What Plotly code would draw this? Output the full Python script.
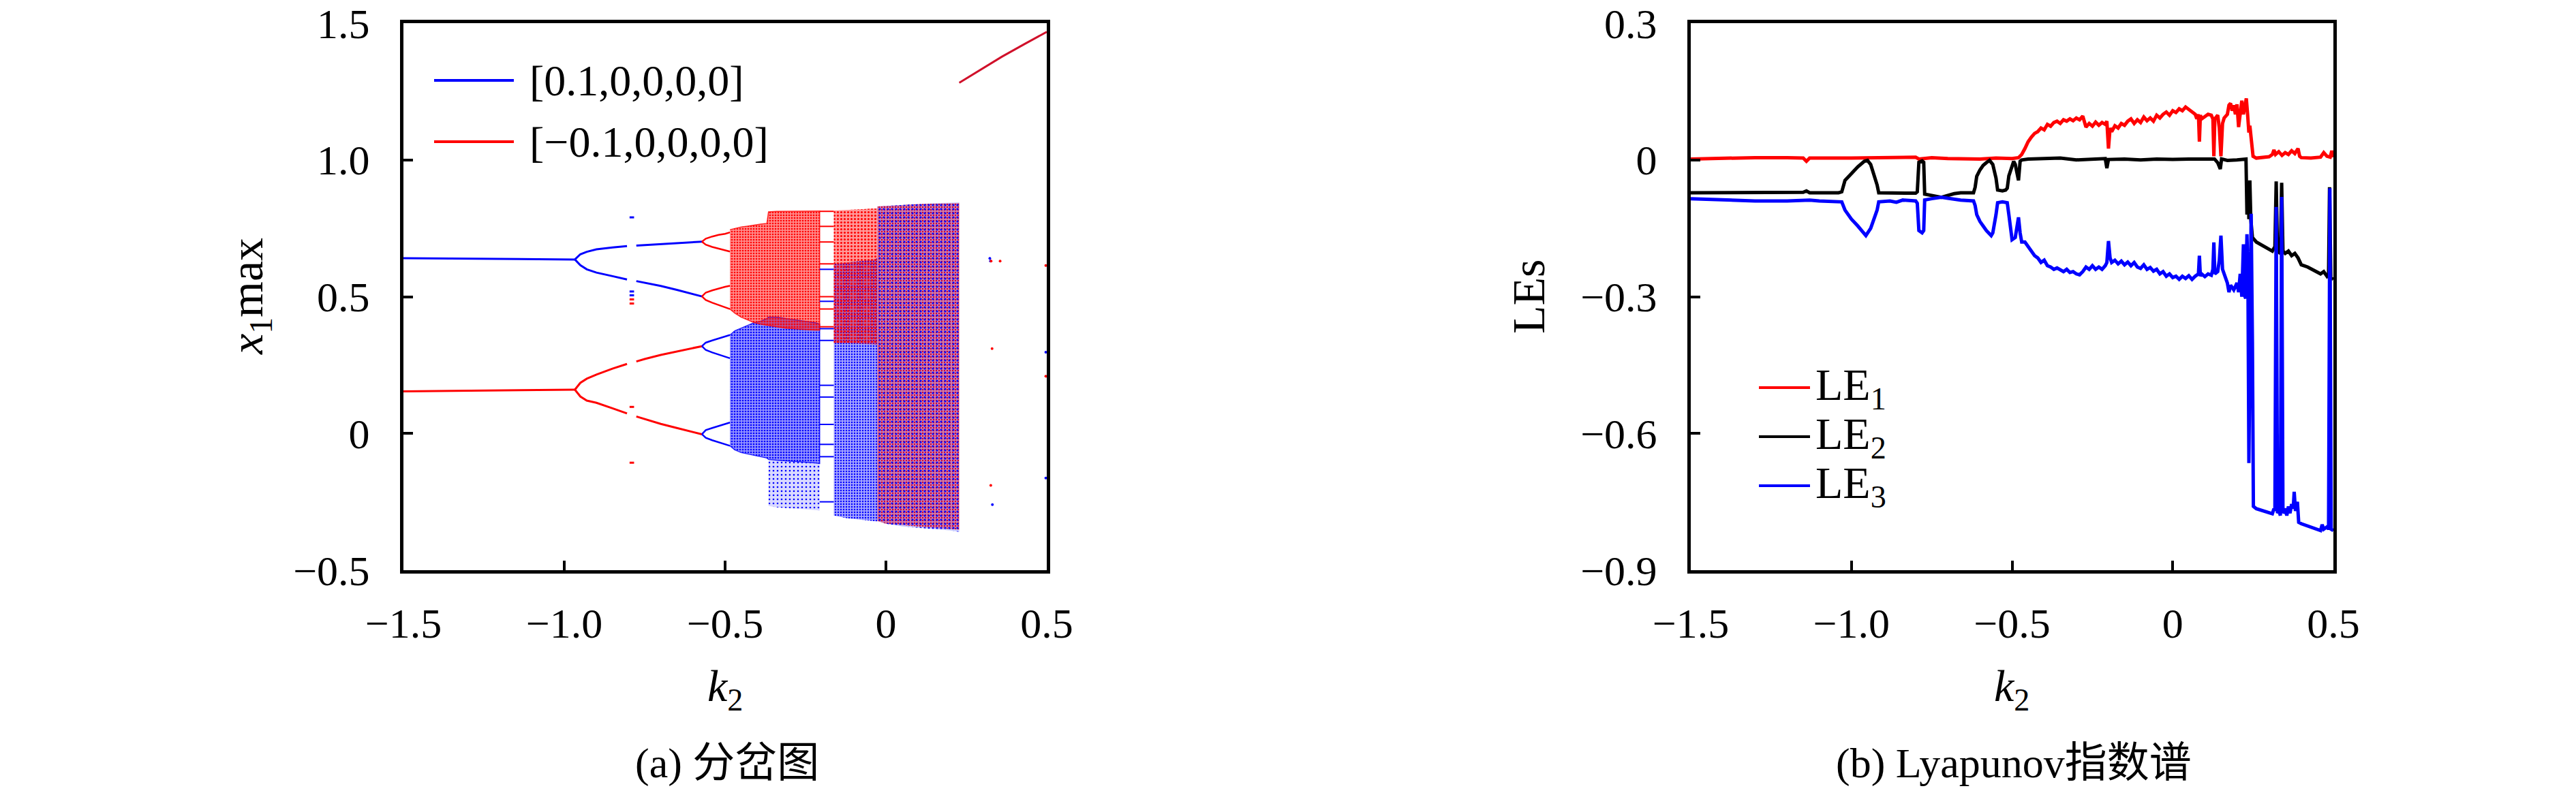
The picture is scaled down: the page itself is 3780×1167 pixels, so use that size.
import plotly.graph_objects as go

# ---------------- (a) bifurcation diagram data ----------------
p1_k2 = [-1.5, -1.25, -0.967]
p1_blue = [0.641, 0.639, 0.636]
p1_red = [0.154, 0.157, 0.160]

p2_k2 = [-0.967, -0.95, -0.93, -0.90, -0.85, -0.805, None, -0.776, -0.75, -0.70, -0.65, -0.60, -0.572]
p2_blue_up = [0.636, 0.655, 0.664, 0.673, 0.680, 0.685, None, 0.687, 0.689, 0.692, 0.696, 0.699, 0.701]
p2_blue_lo = [0.636, 0.615, 0.600, 0.588, 0.575, 0.563, None, 0.557, 0.551, 0.539, 0.525, 0.510, 0.501]
p2_red_up = [0.160, 0.185, 0.200, 0.215, 0.237, 0.254, None, 0.263, 0.272, 0.287, 0.300, 0.312, 0.319]
p2_red_lo = [0.160, 0.135, 0.120, 0.112, 0.092, 0.073, None, 0.062, 0.053, 0.035, 0.020, 0.006, -0.003]

p4_k2 = [-0.572, -0.56, -0.54, -0.52, -0.50, -0.485]
p4_red_a_up = [0.701, 0.712, 0.720, 0.726, 0.730, 0.735]
p4_red_a_lo = [0.701, 0.690, 0.682, 0.676, 0.670, 0.665]
p4_red_b_up = [0.501, 0.515, 0.523, 0.530, 0.536, 0.540]
p4_red_b_lo = [0.501, 0.488, 0.478, 0.470, 0.462, 0.455]
p4_blue_a_up = [0.319, 0.332, 0.340, 0.347, 0.353, 0.360]
p4_blue_a_lo = [0.319, 0.305, 0.296, 0.289, 0.282, 0.275]
p4_blue_b_up = [-0.003, 0.012, 0.020, 0.027, 0.033, 0.040]
p4_blue_b_lo = [-0.003, -0.016, -0.025, -0.032, -0.040, -0.045]

# chaotic bands (envelopes)
ca_k2 = [-0.485, -0.47, -0.45, -0.43, -0.41, -0.39, -0.37, -0.365, -0.34, -0.31, -0.28, -0.25, -0.22, -0.206]
ca_red_hi = [0.745, 0.750, 0.755, 0.758, 0.762, 0.765, 0.768, 0.810, 0.812, 0.812, 0.812, 0.813, 0.813, 0.813]
ca_red_lo = [0.455, 0.440, 0.425, 0.415, 0.405, 0.400, 0.395, 0.395, 0.390, 0.385, 0.383, 0.380, 0.378, 0.378]
ca_blue_hi = [0.360, 0.375, 0.385, 0.395, 0.405, 0.410, 0.420, 0.425, 0.425, 0.420, 0.415, 0.410, 0.405, 0.400]
ca_blue_lo = [-0.045, -0.060, -0.070, -0.075, -0.080, -0.085, -0.090, -0.095, -0.098, -0.100, -0.102, -0.105, -0.108, -0.110]

cs_k2 = [-0.365, -0.34, -0.31, -0.28, -0.25, -0.22, -0.206]
cs_blue_hi = [-0.095, -0.098, -0.100, -0.102, -0.105, -0.108, -0.110]
cs_blue_lo = [-0.265, -0.270, -0.272, -0.275, -0.278, -0.280, -0.282]

cb_k2 = [-0.162, -0.12, -0.08, -0.04, -0.027]
cb_red_hi = [0.815, 0.818, 0.820, 0.822, 0.822]
cb_red_lo = [0.330, 0.330, 0.328, 0.326, 0.325]
cb_blue_hi = [0.620, 0.625, 0.630, 0.635, 0.640]
cb_blue_lo = [-0.300, -0.310, -0.315, -0.320, -0.322]

cc_k2 = [-0.027, 0.0, 0.05, 0.10, 0.15, 0.20, 0.228]
cc_red_hi = [0.830, 0.832, 0.835, 0.838, 0.840, 0.842, 0.842]
cc_red_lo = [-0.320, -0.330, -0.335, -0.340, -0.345, -0.350, -0.352]
cc_blue_hi = [0.830, 0.832, 0.836, 0.840, 0.842, 0.844, 0.845]
cc_blue_lo = [-0.320, -0.330, -0.340, -0.345, -0.350, -0.355, -0.360]

# periodic window lines
win_k2 = [-0.206, -0.162]
win_red_y = [0.812, 0.757, 0.700, 0.620, 0.500, 0.455, 0.390]
win_blue_y = [0.600, 0.483, 0.383, 0.340, 0.176, 0.133, 0.033, -0.040, -0.085, -0.250]

# short coexisting-orbit marks near k2 = -0.79
mark_k2 = [-0.797, -0.783]
mark_blue_y = [0.790, 0.519, 0.505]
mark_red_y = [0.490, 0.475, 0.097, -0.107]

# isolated points for k2 > 0.23
dots_blue_k2 = [0.323, 0.325, 0.331, 0.497, 0.497]
dots_blue_y = [0.640, 0.630, -0.260, 0.297, -0.163]
dots_red_k2 = [0.327, 0.330, 0.326, 0.355, 0.497, 0.497]
dots_red_y = [0.630, 0.310, -0.190, 0.630, 0.614, 0.209]

# upper red branch
hi_k2 = [0.228, 0.30, 0.36, 0.43, 0.50]
hi_red = [1.282, 1.333, 1.377, 1.423, 1.468]

# ---------------- (b) Lyapunov exponents data ----------------
le1_k2 = [-1.50, -1.40, -1.30, -1.20, -1.15, -1.14, -1.13, -1.00, -0.90, -0.80, -0.79, -0.75, -0.70, -0.60, -0.55,
          -0.50, -0.48, -0.47, -0.46, -0.45, -0.44, -0.43, -0.42, -0.41, -0.40, -0.39, -0.38, -0.37, -0.36, -0.35,
          -0.34, -0.33, -0.32, -0.31, -0.30, -0.29, -0.28, -0.275, -0.27, -0.26, -0.25, -0.24, -0.23, -0.22, -0.21,
          -0.205, -0.20, -0.195, -0.19, -0.18, -0.17, -0.16, -0.15, -0.14, -0.13, -0.12, -0.11, -0.10, -0.09, -0.08,
          -0.07, -0.06, -0.05, -0.04, -0.03, -0.02, -0.01, 0.00, 0.01, 0.02, 0.03, 0.04, 0.05, 0.06, 0.07, 0.075,
          0.08, 0.083, 0.086, 0.09, 0.10, 0.11, 0.12, 0.125, 0.128, 0.131, 0.14, 0.145, 0.15, 0.155, 0.16, 0.17,
          0.175, 0.18, 0.185, 0.19, 0.195, 0.20, 0.205, 0.21, 0.215, 0.22, 0.225, 0.229, 0.233, 0.237, 0.24, 0.245,
          0.25, 0.26, 0.28, 0.30, 0.31, 0.315, 0.32, 0.33, 0.34, 0.35, 0.36, 0.37, 0.38, 0.39, 0.395, 0.40, 0.43,
          0.46, 0.47, 0.48, 0.49, 0.495, 0.50]
le1 = [0.002, 0.004, 0.005, 0.005, 0.004, -0.003, 0.004, 0.004, 0.005, 0.006, 0.002, 0.005, 0.003, 0.002, 0.004,
       0.003, 0.005, 0.012, 0.025, 0.040, 0.050, 0.058, 0.062, 0.070, 0.066, 0.078, 0.074, 0.082, 0.085, 0.080,
       0.088, 0.085, 0.090, 0.086, 0.092, 0.088, 0.096, 0.085, 0.072, 0.080, 0.074, 0.083, 0.076, 0.082, 0.078,
       0.085, 0.025, 0.070, 0.062, 0.075, 0.070, 0.080, 0.076, 0.085, 0.090, 0.080, 0.088, 0.082, 0.094, 0.086,
       0.092, 0.085, 0.098, 0.092, 0.100, 0.105, 0.098, 0.108, 0.104, 0.112, 0.108, 0.116, 0.110, 0.106, 0.100, 0.090,
       0.100, 0.040, 0.098, 0.090, 0.096, 0.100, 0.098, 0.090, 0.008, 0.090, 0.098, 0.070, 0.008, 0.080, 0.092, 0.100,
       0.120, 0.124, 0.108, 0.120, 0.100, 0.122, 0.072, 0.110, 0.130, 0.100, 0.118, 0.135, 0.100, 0.060, 0.075, 0.030,
       0.008, 0.004, 0.005, 0.007, 0.012, 0.022, 0.012, 0.018, 0.010, 0.016, 0.012, 0.020, 0.014, 0.025, 0.008, 0.005, 0.004,
       0.006, 0.016, 0.008, 0.006, 0.020, 0.006]

le2_k2 = [-1.50, -1.40, -1.30, -1.15, -1.14, -1.13, -1.04, -1.03, -1.02, -1.00, -0.98, -0.96, -0.95, -0.94, -0.93,
          -0.92, -0.915, -0.80, -0.795, -0.79, -0.78, -0.775, -0.772, -0.75, -0.72, -0.70, -0.68, -0.66, -0.62, -0.615,
          -0.61, -0.60, -0.59, -0.58, -0.57, -0.56, -0.55, -0.545, -0.53, -0.52, -0.515, -0.51, -0.50, -0.495, -0.49,
          -0.485, -0.48, -0.475, -0.47, -0.45, -0.40, -0.35, -0.30, -0.25, -0.21, -0.205, -0.20, -0.15, -0.10, -0.05,
          0.00, 0.05, 0.10, 0.13, 0.14, 0.148, 0.152, 0.17, 0.20, 0.228, 0.231, 0.234, 0.237, 0.24, 0.243, 0.248,
          0.26, 0.28, 0.30, 0.31, 0.318, 0.322, 0.326, 0.335, 0.339, 0.343, 0.35, 0.36, 0.37, 0.38, 0.39, 0.40,
          0.42, 0.44, 0.46, 0.47, 0.48, 0.485, 0.488, 0.492, 0.50]
le2 = [-0.072, -0.072, -0.072, -0.071, -0.068, -0.072, -0.072, -0.070, -0.045, -0.030, -0.015, -0.003, -0.001, -0.010, -0.030,
       -0.055, -0.072, -0.073, -0.070, -0.005, -0.002, -0.005, -0.075, -0.078, -0.082, -0.078, -0.074, -0.072, -0.072, -0.060,
       -0.036, -0.022, -0.012, -0.006, -0.001, -0.010, -0.040, -0.066, -0.068, -0.066, -0.062, -0.035, -0.012, -0.003, -0.010,
       -0.025, -0.045, -0.003, 0.000, 0.002, 0.003, 0.004, 0.000, 0.002, 0.003, -0.018, 0.001, 0.002, 0.000, 0.002,
       0.001, 0.002, 0.001, 0.002, -0.006, -0.020, 0.002, -0.001, 0.000, 0.002, -0.120, -0.050, -0.130, -0.045, -0.130, -0.170,
       -0.180, -0.188, -0.195, -0.200, -0.190, -0.047, -0.200, -0.205, -0.050, -0.200, -0.205, -0.200, -0.210, -0.205, -0.215, -0.230,
       -0.235, -0.242, -0.250, -0.245, -0.255, -0.250, -0.060, -0.258, -0.262]

le3_k2 = [-1.50, -1.45, -1.40, -1.30, -1.20, -1.13, -1.10, -1.03, -1.02, -1.00, -0.98, -0.96, -0.955, -0.94, -0.93,
          -0.92, -0.915, -0.88, -0.86, -0.84, -0.80, -0.795, -0.79, -0.78, -0.775, -0.772, -0.75, -0.72, -0.70, -0.66,
          -0.62, -0.615, -0.61, -0.60, -0.59, -0.58, -0.565, -0.56, -0.55, -0.545, -0.53, -0.515, -0.51, -0.505, -0.50,
          -0.49, -0.48, -0.475, -0.47, -0.46, -0.45, -0.44, -0.43, -0.42, -0.41, -0.40, -0.39, -0.38, -0.37, -0.36,
          -0.35, -0.34, -0.33, -0.32, -0.31, -0.30, -0.29, -0.28, -0.27, -0.26, -0.25, -0.24, -0.23, -0.22, -0.21,
          -0.205, -0.20, -0.195, -0.19, -0.18, -0.17, -0.16, -0.15, -0.14, -0.13, -0.12, -0.11, -0.10, -0.09, -0.08,
          -0.07, -0.06, -0.05, -0.04, -0.03, -0.02, -0.01, 0.00, 0.01, 0.02, 0.03, 0.04, 0.05, 0.06, 0.07,
          0.08, 0.083, 0.086, 0.09, 0.10, 0.11, 0.12, 0.125, 0.128, 0.131, 0.14, 0.145, 0.15, 0.155, 0.16,
          0.17, 0.175, 0.18, 0.19, 0.20, 0.205, 0.21, 0.215, 0.22, 0.225, 0.227, 0.231, 0.234, 0.237, 0.240,
          0.244, 0.248, 0.251, 0.26, 0.28, 0.30, 0.31, 0.315, 0.318, 0.322, 0.326, 0.33, 0.335, 0.339, 0.343,
          0.35, 0.355, 0.36, 0.365, 0.37, 0.375, 0.378, 0.382, 0.388, 0.392, 0.40, 0.42, 0.44, 0.46, 0.465,
          0.47, 0.48, 0.485, 0.489, 0.493, 0.50]
le3 = [-0.085, -0.086, -0.088, -0.090, -0.090, -0.088, -0.090, -0.092, -0.110, -0.130, -0.145, -0.162, -0.166, -0.150, -0.130,
       -0.110, -0.092, -0.090, -0.093, -0.088, -0.090, -0.095, -0.155, -0.160, -0.155, -0.088, -0.085, -0.082, -0.084, -0.088,
       -0.090, -0.100, -0.120, -0.135, -0.145, -0.155, -0.166, -0.160, -0.120, -0.094, -0.092, -0.094, -0.120, -0.150, -0.175,
       -0.170, -0.126, -0.160, -0.180, -0.180, -0.190, -0.200, -0.210, -0.215, -0.225, -0.220, -0.232, -0.235, -0.240, -0.237,
       -0.242, -0.245, -0.240, -0.247, -0.245, -0.250, -0.252, -0.245, -0.235, -0.240, -0.232, -0.240, -0.235, -0.240, -0.232,
       -0.225, -0.178, -0.215, -0.225, -0.220, -0.228, -0.222, -0.230, -0.224, -0.232, -0.225, -0.235, -0.238, -0.230, -0.240,
       -0.236, -0.244, -0.240, -0.250, -0.245, -0.255, -0.250, -0.258, -0.255, -0.262, -0.255, -0.260, -0.254, -0.262, -0.255,
       -0.250, -0.210, -0.255, -0.250, -0.256, -0.250, -0.253, -0.240, -0.181, -0.250, -0.245, -0.220, -0.166, -0.240, -0.250,
       -0.270, -0.290, -0.275, -0.285, -0.270, -0.290, -0.250, -0.300, -0.185, -0.300, -0.304, -0.163, -0.250, -0.665, -0.300,
       -0.118, -0.400, -0.760, -0.765, -0.770, -0.775, -0.776, -0.765, -0.770, -0.103, -0.775, -0.770, -0.780, -0.081, -0.775,
       -0.765, -0.780, -0.760, -0.775, -0.755, -0.765, -0.728, -0.770, -0.750, -0.795, -0.798, -0.803, -0.808, -0.813, -0.800,
       -0.810, -0.805, -0.810, -0.062, -0.810, -0.813]

x_ticks = [-1.5, -1.0, -0.5, 0, 0.5]
x_ticktext = ["\u22121.5", "\u22121.0", "\u22120.5", "0", "0.5"]
ya_ticks = [-0.5, 0, 0.5, 1.0, 1.5]
ya_ticktext = ["\u22120.5", "0", "0.5", "1.0", "1.5"]
yb_ticks = [-0.9, -0.6, -0.3, 0, 0.3]
yb_ticktext = ["\u22120.9", "\u22120.6", "\u22120.3", "0", "0.3"]

BLUE = "#0000ff"
RED = "#ff0000"
FONT = "Liberation Serif, Noto Sans CJK SC, serif"

# page is drawn inside the browser's default 8px body margin
W, H, OFF = 3764, 1151, 8


def px(p):
    return (p - OFF) / W


def py(p):
    return 1 - (p - OFF) / H


fig = go.Figure()


def band(k, lo, hi):
    return list(k) + list(k)[::-1], list(hi) + list(lo)[::-1]


def add_band(k, lo, hi, color, base_alpha, size, solid, edge=1.0, xa="x", ya="y"):
    bx, by = band(k, lo, hi)
    r, g, b = int(color[1:3], 16), int(color[3:5], 16), int(color[5:7], 16)
    fig.add_trace(go.Scatter(x=bx, y=by, mode="lines", fill="toself",
                             line=dict(width=edge, color="rgba(%d,%d,%d,0.8)" % (r, g, b)),
                             fillcolor="rgba(%d,%d,%d,%.2f)" % (r, g, b, base_alpha),
                             xaxis=xa, yaxis=ya, showlegend=False, hoverinfo="skip"))
    fig.add_trace(go.Scatter(x=bx, y=by, mode="lines", fill="toself", line=dict(width=0),
                             fillcolor="rgba(0,0,0,0)",
                             fillpattern=dict(shape=".", size=size, solidity=solid, fgcolor=color, fgopacity=1),
                             xaxis=xa, yaxis=ya, showlegend=False, hoverinfo="skip"))


def add_line(x, y, color, width, xa="x", ya="y"):
    fig.add_trace(go.Scatter(x=x, y=y, mode="lines", line=dict(color=color, width=width),
                             xaxis=xa, yaxis=ya, showlegend=False, connectgaps=False))


# chaotic bands
add_band(ca_k2, ca_blue_lo, ca_blue_hi, BLUE, 0.42, 4, 0.35, 1.5)
add_band(cs_k2, cs_blue_lo, cs_blue_hi, BLUE, 0.15, 6, 0.15, 0)
add_band(ca_k2, ca_red_lo, ca_red_hi, RED, 0.45, 4, 0.35, 1.5)
add_band(cb_k2, cb_blue_lo, cb_blue_hi, BLUE, 0.35, 4, 0.30, 0)
add_band(cb_k2, cb_red_lo, cb_red_hi, RED, 0.40, 5, 0.30, 0)
add_band(cc_k2, cc_red_lo, cc_red_hi, RED, 0.38, 4, 0.28, 0)
add_band(cc_k2, cc_blue_lo, cc_blue_hi, BLUE, 0.20, 6, 0.22, 0)

# periodic branches
add_line(p1_k2, p1_blue, BLUE, 3)
add_line(p1_k2, p1_red, RED, 3)
for yv in (p2_blue_up, p2_blue_lo):
    add_line(p2_k2, yv, BLUE, 3)
for yv in (p2_red_up, p2_red_lo):
    add_line(p2_k2, yv, RED, 3)
for yv in (p4_red_a_up, p4_red_a_lo, p4_red_b_up, p4_red_b_lo):
    add_line(p4_k2, yv, RED, 2.5)
for yv in (p4_blue_a_up, p4_blue_a_lo, p4_blue_b_up, p4_blue_b_lo):
    add_line(p4_k2, yv, BLUE, 2.5)

# window lines
wx, wy = [], []
for yv in win_blue_y:
    wx += win_k2 + [None]
    wy += [yv, yv, None]
add_line(wx, wy, BLUE, 2)
wx, wy = [], []
for yv in win_red_y:
    wx += win_k2 + [None]
    wy += [yv, yv, None]
add_line(wx, wy, RED, 2)

# marks near -0.79
mx, my = [], []
for yv in mark_blue_y:
    mx += mark_k2 + [None]
    my += [yv, yv, None]
add_line(mx, my, BLUE, 3)
mx, my = [], []
for yv in mark_red_y:
    mx += mark_k2 + [None]
    my += [yv, yv, None]
add_line(mx, my, RED, 3)

fig.add_trace(go.Scatter(x=dots_blue_k2, y=dots_blue_y, mode="markers",
                         marker=dict(color=BLUE, size=4, line=dict(width=0)), showlegend=False))
fig.add_trace(go.Scatter(x=dots_red_k2, y=dots_red_y, mode="markers",
                         marker=dict(color=RED, size=4, line=dict(width=0)), showlegend=False))
add_line(hi_k2, hi_red, "#d0102a", 3)

# (b) Lyapunov exponents
add_line(le1_k2, le1, RED, 5, "x2", "y2")
add_line(le2_k2, le2, "black", 5, "x2", "y2")
add_line(le3_k2, le3, BLUE, 5, "x2", "y2")

axis_common = dict(showline=True, mirror=True, linewidth=5, linecolor="black", ticks="inside",
                   ticklen=14, tickwidth=4, tickcolor="black", showgrid=False, zeroline=False,
                   automargin=False, ticklabeloverflow="allow",
                   tickfont=dict(family=FONT, size=62, color="black"))

ydom = [py(837), py(34)]
fig.update_layout(
    template="none",
    width=W, height=H, margin=dict(l=0, r=0, t=0, b=0, pad=0),
    paper_bgcolor="white", plot_bgcolor="white", showlegend=False,
    xaxis=dict(domain=[px(592), px(1536)], range=[-1.5, 0.5], tickvals=x_ticks, ticktext=x_ticktext,
               anchor="y", ticklabelstandoff=20, **axis_common),
    yaxis=dict(domain=ydom, range=[-0.5, 1.5], tickvals=ya_ticks, ticktext=ya_ticktext,
               anchor="x", ticklabelstandoff=32, **axis_common),
    xaxis2=dict(domain=[px(2481), px(3424)], range=[-1.5, 0.5], tickvals=x_ticks, ticktext=x_ticktext,
                anchor="y2", ticklabelstandoff=20, **axis_common),
    yaxis2=dict(domain=ydom, range=[-0.9, 0.3], tickvals=yb_ticks, ticktext=yb_ticktext,
                anchor="x2", ticklabelstandoff=32, **axis_common),
)

ann = []


def txt(x, y, s, size=64, angle=0, xanchor="center"):
    ann.append(dict(x=x, y=y, xref="paper", yref="paper", text=s, showarrow=False, textangle=angle,
                    xanchor=xanchor, yanchor="middle", font=dict(family=FONT, size=size, color="black")))


txt(px(366), py(435), "<i>x</i><sub>1</sub>max", 68, -90)
txt(px(1064), py(1011), "<i>k</i><sub>2</sub>", 66)
txt(px(1067), py(1120), "(a) 分岔图", 62)
txt(px(2243), py(435), "LEs", 68, -90)
txt(px(2952), py(1011), "<i>k</i><sub>2</sub>", 66)
txt(px(2955), py(1120), "(b) Lyapunov指数谱", 62)

# legends
shapes = []
leg_a = [(118, BLUE, "[0.1,0,0,0,0]"), (208, RED, "[\u22120.1,0,0,0,0]")]
for yy, c, s in leg_a:
    shapes.append(dict(type="line", xref="paper", yref="paper", x0=px(637), x1=px(754), y0=py(yy), y1=py(yy),
                       line=dict(color=c, width=4)))
    txt(px(775), py(yy), s, 64, 0, "left")
leg_b = [(569, RED, "LE<sub>1</sub>"), (641, "black", "LE<sub>2</sub>"), (713, BLUE, "LE<sub>3</sub>")]
for yy, c, s in leg_b:
    shapes.append(dict(type="line", xref="paper", yref="paper", x0=px(2581), x1=px(2656), y0=py(yy), y1=py(yy),
                       line=dict(color=c, width=4)))
    txt(px(2662), py(yy), s, 66, 0, "left")

fig.update_layout(annotations=ann, shapes=shapes)
fig.write_html("out.html")
